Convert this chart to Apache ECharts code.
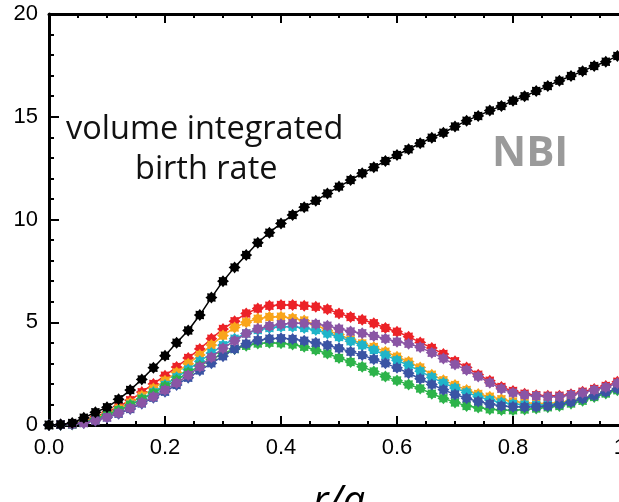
<!DOCTYPE html>
<html>
<head>
<meta charset="utf-8">
<script src="https://cdn.jsdelivr.net/npm/echarts@6/dist/echarts.min.js"></script>
<style>
  html, body { margin: 0; padding: 0; overflow: hidden; background: #fff; }
  #chart { width: 619px; height: 502px; }
</style>
</head>
<body>
<div id="chart"></div>
<script>
// normalized radius r/a, sampled every 0.02
const rOverA = [0.00,0.02,0.04,0.06,0.08,0.10,0.12,0.14,0.16,0.18,0.20,0.22,0.24,0.26,0.28,0.30,0.32,0.34,0.36,0.38,0.40,0.42,0.44,0.46,0.48,0.50,0.52,0.54,0.56,0.58,0.60,0.62,0.64,0.66,0.68,0.70,0.72,0.74,0.76,0.78,0.80,0.82,0.84,0.86,0.88,0.90,0.92,0.94,0.96,0.98];

// volume integrated birth rate (total)
const total = [0.00,0.02,0.10,0.35,0.62,0.86,1.25,1.70,2.22,2.79,3.37,4.00,4.60,5.35,6.20,7.00,7.67,8.27,8.87,9.36,9.81,10.22,10.60,10.91,11.27,11.60,11.92,12.25,12.54,12.85,13.14,13.42,13.71,13.98,14.22,14.52,14.81,15.04,15.30,15.52,15.78,16.00,16.25,16.50,16.75,16.98,17.22,17.47,17.68,17.96];

const red = [0.00,0.01,0.05,0.18,0.40,0.62,0.90,1.20,1.60,2.00,2.40,2.82,3.26,3.70,4.20,4.67,5.05,5.43,5.67,5.80,5.84,5.84,5.80,5.75,5.63,5.43,5.25,5.12,4.95,4.72,4.54,4.30,4.02,3.75,3.45,3.10,2.80,2.45,2.15,1.85,1.65,1.52,1.45,1.42,1.42,1.50,1.62,1.75,1.90,2.10];
const orange = [0.00,0.01,0.04,0.15,0.35,0.55,0.80,1.08,1.42,1.78,2.15,2.55,2.98,3.41,3.89,4.35,4.75,5.00,5.17,5.26,5.27,5.20,5.08,4.88,4.60,4.40,4.16,3.97,3.80,3.57,3.32,3.08,2.80,2.45,2.18,1.95,1.70,1.51,1.38,1.25,1.15,1.08,1.05,1.05,1.10,1.18,1.30,1.45,1.60,1.75];
const cyan = [0.00,0.01,0.04,0.13,0.30,0.50,0.72,0.98,1.28,1.60,1.95,2.32,2.70,3.10,3.50,3.88,4.20,4.45,4.62,4.72,4.78,4.78,4.72,4.62,4.45,4.28,4.08,3.88,3.65,3.40,3.15,2.90,2.62,2.32,2.05,1.80,1.58,1.38,1.22,1.10,1.02,0.98,0.97,0.98,1.04,1.14,1.28,1.42,1.58,1.74];
const green = [0.00,0.01,0.04,0.13,0.30,0.50,0.72,0.97,1.25,1.55,1.88,2.20,2.55,2.88,3.20,3.48,3.70,3.86,3.96,4.00,3.98,3.92,3.81,3.65,3.48,3.26,3.07,2.84,2.60,2.36,2.16,1.97,1.78,1.52,1.30,1.10,0.93,0.85,0.77,0.73,0.72,0.75,0.80,0.86,0.93,1.04,1.18,1.36,1.53,1.69];
const blue = [0.00,0.01,0.04,0.10,0.22,0.36,0.55,0.78,1.04,1.32,1.62,1.95,2.30,2.65,3.00,3.35,3.70,3.95,4.12,4.20,4.22,4.18,4.10,4.00,3.88,3.73,3.57,3.40,3.20,3.00,2.78,2.52,2.25,1.97,1.72,1.48,1.30,1.14,1.02,0.93,0.89,0.88,0.89,0.92,1.01,1.12,1.28,1.44,1.60,1.77];
const purple = [0.00,0.02,0.05,0.10,0.22,0.38,0.58,0.82,1.08,1.38,1.70,2.04,2.42,2.84,3.30,3.73,4.10,4.45,4.68,4.82,4.90,4.95,4.95,4.92,4.83,4.68,4.55,4.46,4.33,4.20,4.05,3.95,3.78,3.52,3.24,2.94,2.68,2.36,2.06,1.76,1.57,1.46,1.41,1.38,1.38,1.46,1.57,1.70,1.84,2.03];

const xTickLabels = ['0.0', '0.2', '0.4', '0.6', '0.8', '1.0'];
const yTickLabels = ['0', '5', '10', '15', '20'];

// asterisk-like marker: chunky 8-spike star polygon
function starPath(spikes, inner) {
  const pts = [];
  for (let k = 0; k < spikes * 2; k++) {
    const a = Math.PI * k / spikes;
    const r = k % 2 === 0 ? 1 : inner;
    pts.push(((1 + r * Math.sin(a)) * 10).toFixed(2) + ' ' + ((1 - r * Math.cos(a)) * 10).toFixed(2));
  }
  return 'path://M' + pts.join(' L') + ' Z';
}
const MARK = starPath(8, 0.72);

function pairs(ys) { return rOverA.map((x, i) => [x, ys[i]]); }

function curve(name, ys, color, z) {
  return {
    name, type: 'line', data: pairs(ys), z,
    symbol: MARK, symbolSize: 12, showSymbol: true,
    lineStyle: { color, width: 1.5 },
    itemStyle: { color, borderWidth: 0 },
    emphasis: { disabled: true },
    animation: false
  };
}

const tickFont = { fontFamily: 'Liberation Sans', fontSize: 22, color: '#000' };
const axisLine = { show: true, onZero: false, lineStyle: { color: '#000', width: 3 } };
const majorTick = len => ({ show: true, inside: true, length: len, lineStyle: { color: '#000', width: 2 } });
const minorTick = (n, len) => ({ show: true, splitNumber: n, length: len, lineStyle: { color: '#000', width: 2 } });

const chart = echarts.init(document.getElementById('chart'), null, { renderer: 'canvas' });
chart.setOption({
  backgroundColor: '#fff',
  animation: false,
  // plot box runs past the right edge of the page (x = 1 sits just outside)
  grid: { left: 49, top: 14, width: 580, height: 411, containLabel: false, outerBoundsMode: 'none' },
  xAxis: [{
    type: 'value', min: 0, max: 1, interval: 0.2, position: 'bottom',
    name: 'r/a', nameLocation: 'middle', nameGap: 58,
    nameTextStyle: { fontFamily: 'Open Sans', fontStyle: 'italic', fontSize: 40, color: '#000' },
    axisLine,
    axisTick: majorTick(9),
    minorTick: minorTick(4, 4),
    splitLine: { show: false },
    axisLabel: { ...tickFont, margin: 12, formatter: v => xTickLabels[Math.round(v / 0.2)] }
  }, {
    type: 'value', min: 0, max: 1, interval: 0.2, position: 'top',
    axisLine,
    axisTick: majorTick(9),
    minorTick: minorTick(4, 4),
    splitLine: { show: false },
    axisLabel: { show: false }
  }],
  yAxis: [{
    type: 'value', min: 0, max: 20, interval: 5, position: 'left',
    axisLine,
    axisTick: majorTick(10),
    minorTick: minorTick(5, 5),
    splitLine: { show: false },
    axisLabel: { ...tickFont, margin: 11, formatter: v => yTickLabels[Math.round(v / 5)] }
  }, {
    type: 'value', min: 0, max: 20, interval: 5, position: 'right',
    axisLine,
    axisTick: majorTick(10),
    minorTick: minorTick(5, 5),
    splitLine: { show: false },
    axisLabel: { show: false }
  }],
  graphic: [{
    type: 'text', left: 66, top: 113,
    style: { text: 'volume integrated', font: '32.5px "Open Sans"', fill: '#111' }
  }, {
    type: 'text', left: 135, top: 153,
    style: { text: 'birth rate', font: '32.5px "Open Sans"', fill: '#111' }
  }, {
    type: 'text', left: 492, top: 133,
    style: { text: 'NBI', font: 'bold 42px "Open Sans"', fill: '#9a9a9a' }
  }],
  series: [
    curve('red', red, '#ec2227', 2),
    curve('orange', orange, '#f9a51b', 3),
    curve('cyan', cyan, '#1fb4c9', 4),
    curve('green', green, '#2db34a', 5),
    curve('blue', blue, '#3a54a4', 6),
    curve('purple', purple, '#8a55a5', 7),
    curve('total', total, '#000000', 8)
  ]
});
</script>
</body>
</html>
